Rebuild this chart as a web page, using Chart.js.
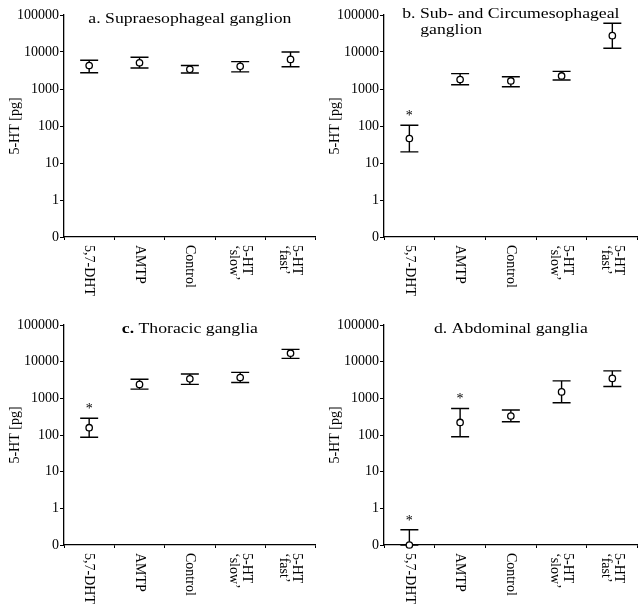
<!DOCTYPE html>
<html lang="en">
<head>
<meta charset="UTF-8" />
<title>5-HT content by ganglion</title>
<script src="https://cdn.jsdelivr.net/npm/chart.js"></script>
<style>
  body { margin: 0; background: #fff; }
  #wrap { position: relative; width: 643px; height: 609px; }
  #wrap canvas { position: absolute; }
</style>
</head>
<body>
<div id="wrap">
  <canvas id="pa" width="321" height="300" style="left:0;top:0"></canvas>
  <canvas id="pb" width="323" height="300" style="left:320px;top:0"></canvas>
  <canvas id="pc" width="321" height="309" style="left:0;top:300px"></canvas>
  <canvas id="pd" width="323" height="309" style="left:320px;top:300px"></canvas>
</div>
<script>
const FONT = '"Liberation Serif", "Times New Roman", serif';

// x categories (multi-line labels, drawn rotated)
const groups = [['5,7-DHT'], ['AMTP'], ['Control'], ['5-HT', '\u2018slow\u2019'], ['5-HT', '\u2018fast\u2019']];
const yTicks = [-1, 0, 1, 2, 3, 4, 5]; // -1 is shown as "0"

// a. Supraesophageal ganglion  (pg)
const titleA = ['a. Supraesophageal ganglion'];
const meanA  = [4300, 5100, 3400, 4100, 6300];
const upperA = [6000, 7200, 4300, 5500, 10000];
const lowerA = [2750, 3700, 2700, 2900, 4000];
const sigA   = [false, false, false, false, false];

// b. Sub- and Circumesophageal ganglion
const titleB = ['b. Sub- and Circumesophageal', 'ganglion'];
const meanB  = [46, 1800, 1650, 2250, 27700];
const upperB = [105, 2600, 2150, 3000, 60000];
const lowerB = [20, 1300, 1150, 1750, 12600];
const sigB   = [true, false, false, false, false];

// c. Thoracic ganglia
const titleC = ['c. Thoracic ganglia'];
const meanC  = [158, 2400, 3400, 3700, 17000];
const upperC = [285, 3300, 4600, 5100, 21700];
const lowerC = [87, 1780, 2400, 2700, 12300];
const sigC   = [true, false, false, false, false];

// d. Abdominal ganglia
const titleD = ['d. Abdominal ganglia'];
const meanD  = [0, 220, 330, 1500, 3500];
const upperD = [0.26, 530, 480, 3000, 5600];
const lowerD = [0, 90, 230, 760, 2100];
const sigD   = [true, true, false, false, false];

// log axis where 0 sits one decade under 1
const tv = v => v > 0 ? Math.max(-1, Math.log10(v)) : -1;

function makePanel(id, p) {
  const deco = {
    id: 'deco' + id,
    beforeDatasetsDraw(chart) {
      const ctx = chart.ctx, xs = chart.scales.x, ys = chart.scales.y;
      ctx.save();
      ctx.strokeStyle = '#000';
      ctx.lineWidth = 1.4;
      p.mean.forEach((m, i) => {
        const x = xs.getPixelForValue(i);
        const yHi = ys.getPixelForValue(tv(p.upper[i]));
        const yLo = ys.getPixelForValue(tv(p.lower[i]));
        ctx.beginPath();
        ctx.moveTo(x, yHi); ctx.lineTo(x, yLo);
        ctx.moveTo(x - 9, yHi); ctx.lineTo(x + 9, yHi);
        ctx.moveTo(x - 9, yLo); ctx.lineTo(x + 9, yLo);
        ctx.stroke();
      });
      ctx.restore();
    },
    afterDraw(chart) {
      const ctx = chart.ctx, xs = chart.scales.x, ys = chart.scales.y;
      const area = chart.chartArea;
      ctx.save();
      ctx.fillStyle = '#000';

      // asterisks
      ctx.font = '14px ' + FONT;
      ctx.textAlign = 'center';
      ctx.textBaseline = 'alphabetic';
      p.sig.forEach((s, i) => {
        if (!s) return;
        ctx.fillText('*', xs.getPixelForValue(i), ys.getPixelForValue(tv(p.upper[i])) - 5);
      });

      // rotated category labels (read top to bottom)
      ctx.font = '14px ' + FONT;
      ctx.textAlign = 'left';
      ctx.textBaseline = 'middle';
      groups.forEach((lines, i) => {
        const x = xs.getPixelForValue(i);
        ctx.save();
        ctx.translate(x, area.bottom + 8);
        ctx.rotate(Math.PI / 2);
        lines.forEach((t, j) => ctx.fillText(t, 0, (j - (lines.length - 1) / 2) * 13));
        ctx.restore();
      });

      // panel title inside the plot, slightly stretched like the print
      const sx = 1.18;
      ctx.textBaseline = 'alphabetic';
      ctx.textAlign = 'left';
      const cx = (area.left + area.right) / 2;
      const normal = '15px ' + FONT, bold = 'bold 15px ' + FONT;
      ctx.font = normal;
      if (p.title.length === 1) {
        const t = p.title[0];
        const head = t.slice(0, 2), rest = t.slice(2);
        ctx.font = p.boldHead ? bold : normal;
        const wh = ctx.measureText(head).width;
        ctx.font = normal;
        const wr = ctx.measureText(rest).width;
        const x0 = cx - (wh + wr) * sx / 2;
        ctx.save();
        ctx.translate(x0, area.top + 8);
        ctx.scale(sx, 1);
        ctx.font = p.boldHead ? bold : normal;
        ctx.fillText(head, 0, 0);
        ctx.font = normal;
        ctx.fillText(rest, wh, 0);
        ctx.restore();
      } else {
        const w0 = ctx.measureText(p.title[0]).width * sx;
        const x0 = cx - w0 / 2;
        p.title.forEach((t, j) => {
          ctx.save();
          ctx.translate(x0 + (j ? 18 : 0), area.top + 3 + j * 16);
          ctx.scale(sx, 1);
          ctx.fillText(t, 0, 0);
          ctx.restore();
        });
      }
      ctx.restore();
    }
  };

  new Chart(document.getElementById(id), {
    type: 'line',
    data: {
      labels: groups.map(g => g.join(' ')),
      datasets: [{
        data: p.mean.map(tv),
        showLine: false,
        pointRadius: 3.2,
        pointBackgroundColor: '#fff',
        pointBorderColor: '#000',
        pointBorderWidth: 1.3,
        clip: false
      }]
    },
    options: {
      responsive: false,
      animation: false,
      layout: { padding: { top: p.top, right: p.right, left: 0, bottom: 0 } },
      plugins: { legend: { display: false }, tooltip: { enabled: false } },
      scales: {
        x: {
          offset: true,
          grid: { offset: true, drawOnChartArea: false, tickLength: 3, color: '#000' },
          border: { color: '#000', width: 1.3 },
          ticks: { display: false },
          afterFit: s => { s.height = p.axisH; }
        },
        y: {
          min: -1, max: 5,
          afterBuildTicks: s => { s.ticks = yTicks.map(v => ({ value: v })); },
          ticks: {
            padding: 1,
            color: '#000',
            font: { family: FONT, size: 14 },
            callback: v => v === -1 ? '0' : String(Math.round(Math.pow(10, v)))
          },
          grid: { drawOnChartArea: false, tickLength: 4, color: '#000' },
          border: { color: '#000', width: 1.3 },
          title: {
            display: true, text: '5-HT [pg]', color: '#000',
            font: { family: FONT, size: 14 },
            padding: { top: 7, bottom: 0 }
          },
          afterFit: s => { s.width = 64; }
        }
      }
    },
    plugins: [deco]
  });
}

makePanel('pa', { title: titleA, mean: meanA, upper: upperA, lower: lowerA, sig: sigA, top: 15, right: 0, axisH: 63 });
makePanel('pb', { title: titleB, mean: meanB, upper: upperB, lower: lowerB, sig: sigB, top: 15, right: 2, axisH: 63 });
makePanel('pc', { title: titleC, mean: meanC, upper: upperC, lower: lowerC, sig: sigC, top: 25, right: 0, axisH: 64, boldHead: true });
makePanel('pd', { title: titleD, mean: meanD, upper: upperD, lower: lowerD, sig: sigD, top: 25, right: 2, axisH: 64 });
</script>
</body>
</html>
